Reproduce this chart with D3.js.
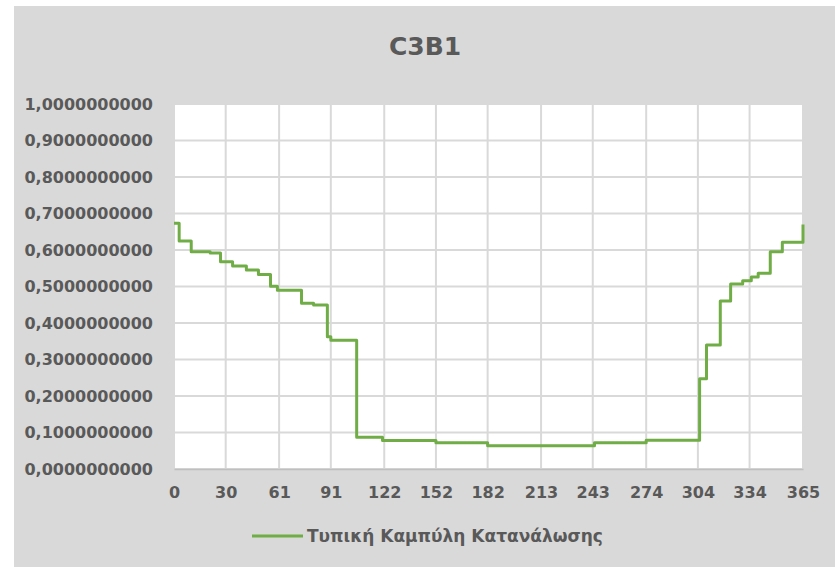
<!DOCTYPE html>
<html>
<head>
<meta charset="utf-8">
<script src="https://cdn.jsdelivr.net/npm/d3@7"></script>
<style>
  html, body { margin: 0; padding: 0; background: #fff; }
  svg { display: block; }
  text { font-family: "DejaVu Sans", Verdana, sans-serif; }
</style>
</head>
<body>
<svg id="chart"></svg>
<script>
// chart data
const title = 'C3B1'
const seriesName = 'Τυπική Καμπύλη Κατανάλωσης'
// day where each step starts, and its level
const stepDays = [0, 3, 10, 21, 27, 34, 42, 49, 56, 60, 74, 81, 89, 91, 106, 121, 152, 182, 244, 274, 305, 309, 317, 323, 330, 335, 339, 346, 353, 365]
const stepValues = [0.673, 0.625, 0.595, 0.592, 0.568, 0.556, 0.545, 0.533, 0.501, 0.490, 0.454, 0.449, 0.362, 0.353, 0.087, 0.078, 0.072, 0.064, 0.072, 0.079, 0.247, 0.340, 0.460, 0.507, 0.516, 0.526, 0.536, 0.595, 0.621, 0.670]
const xTicks = [0, 30, 61, 91, 122, 152, 182, 213, 243, 274, 304, 334, 365]
const yTicks = [0, 0.1, 0.2, 0.3, 0.4, 0.5, 0.6, 0.7, 0.8, 0.9, 1.0]

const w = 835
const h = 567
const plot = { left: 174, right: 803, top: 104, bottom: 469 }
const green = '#70ad47'
const textColor = '#595959'

const points = stepDays.map((d, i) => ({ day: d, value: stepValues[i] }))

const svg = d3.select('#chart')
              .attr('width', w)
              .attr('height', h)

// outer chart background
svg.append('rect')
   .attr('x', 14)
   .attr('y', 6)
   .attr('width', w - 14)
   .attr('height', h - 6)
   .attr('fill', '#d9d9d9')

const x = d3.scaleLinear()
            .domain([0, 365])
            .range([plot.left, plot.right])

const y = d3.scaleLinear()
            .domain([0, 1])
            .range([plot.bottom, plot.top])

// plot area
svg.append('rect')
   .attr('x', plot.left)
   .attr('y', plot.top)
   .attr('width', plot.right - plot.left)
   .attr('height', plot.bottom - plot.top)
   .attr('fill', '#ffffff')

// gridlines
svg.append('g')
   .selectAll('line')
   .data(yTicks)
   .enter()
   .append('line')
     .attr('x1', plot.left)
     .attr('x2', plot.right)
     .attr('y1', d => y(d))
     .attr('y2', d => y(d))
     .attr('stroke', '#d9d9d9')
     .attr('stroke-width', 2)

svg.append('g')
   .selectAll('line')
   .data(xTicks)
   .enter()
   .append('line')
     .attr('x1', d => x(d))
     .attr('x2', d => x(d))
     .attr('y1', plot.top)
     .attr('y2', plot.bottom)
     .attr('stroke', '#d9d9d9')
     .attr('stroke-width', 2)

// axes (labels only, Excel style)
const yAxis = svg.append('g')
                 .attr('transform', `translate(${plot.left}, 0)`)
                 .call(d3.axisLeft(y)
                         .tickValues(yTicks)
                         .tickSize(0)
                         .tickPadding(21)
                         .tickFormat(d => d3.format('.10f')(d).replace('.', ',')))
yAxis.select('.domain').remove()
yAxis.selectAll('text')
     .attr('fill', textColor)
     .style('font-size', '16px')
     .style('font-weight', 'bold')

const xAxis = svg.append('g')
                 .attr('transform', `translate(0, ${plot.bottom})`)
                 .call(d3.axisBottom(x)
                         .tickValues(xTicks)
                         .tickSize(0)
                         .tickPadding(18)
                         .tickFormat(d3.format('d')))
xAxis.select('.domain')
     .attr('stroke', '#bfbfbf')
     .attr('stroke-width', 1.5)
xAxis.selectAll('text')
     .attr('fill', textColor)
     .style('font-size', '16px')
     .style('font-weight', 'bold')

// the step line
const line = d3.line()
               .x(d => x(d.day))
               .y(d => y(d.value))
               .curve(d3.curveStepAfter)

svg.append('path')
   .datum(points)
   .attr('d', line)
   .attr('fill', 'none')
   .attr('stroke', green)
   .attr('stroke-width', 3)
   .attr('stroke-linejoin', 'round')

// title
svg.append('text')
   .attr('x', 425)
   .attr('y', 55)
   .attr('text-anchor', 'middle')
   .attr('fill', textColor)
   .style('font-size', '25px')
   .style('font-weight', 'bold')
   .text(title)

// legend
const legend = svg.append('g')
                  .attr('transform', 'translate(252, 536)')
legend.append('line')
      .attr('x1', 0)
      .attr('x2', 51)
      .attr('stroke', green)
      .attr('stroke-width', 3)
legend.append('text')
      .attr('x', 55)
      .attr('dy', '0.35em')
      .attr('fill', textColor)
      .style('font-size', '17px')
      .style('font-weight', 'bold')
      .text(seriesName)
</script>
</body>
</html>
